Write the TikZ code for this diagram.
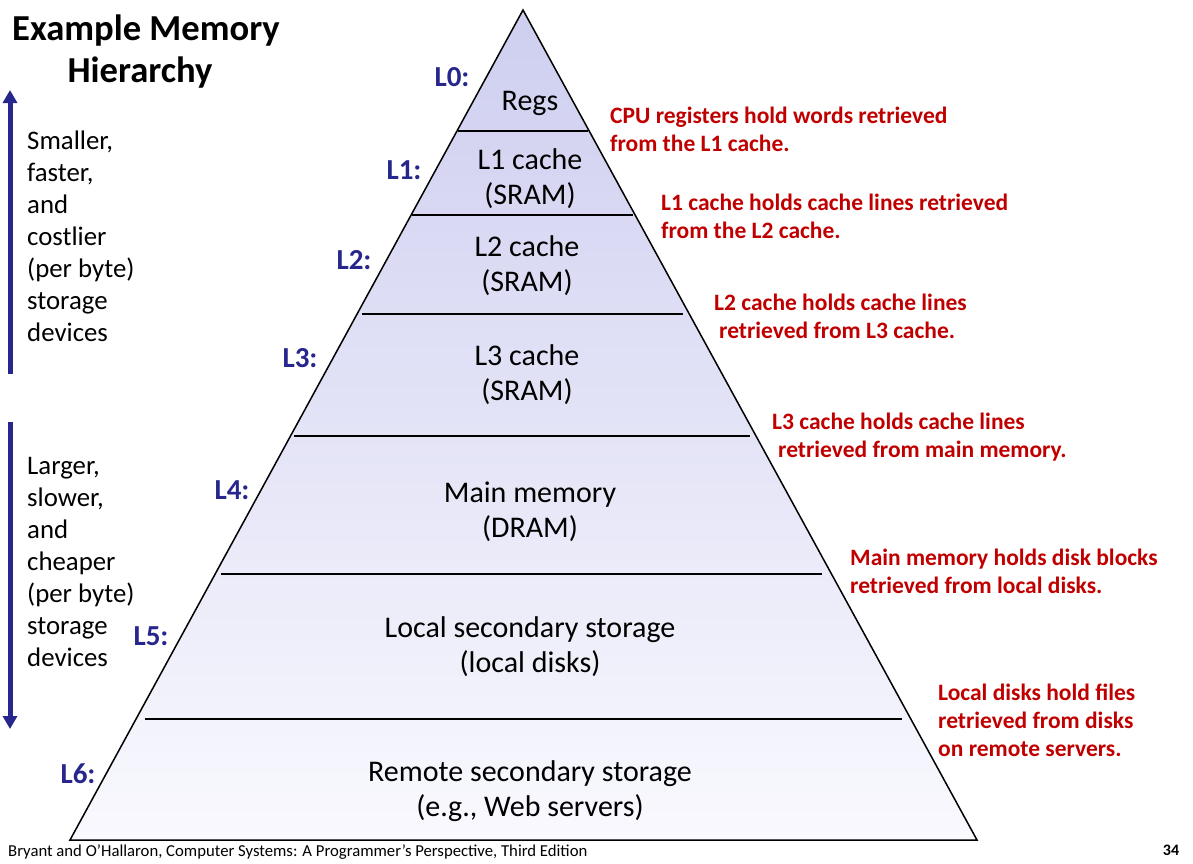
\documentclass[tikz,border=0pt]{standalone}
\usepackage{fontspec}
\setmainfont{Carlito}
\usetikzlibrary{arrows.meta}
\definecolor{navy}{RGB}{38,38,140}
\definecolor{darkred}{RGB}{192,0,0}
\definecolor{topfill}{RGB}{206,206,240}
\definecolor{botfill}{RGB}{249,249,254}
\tikzset{
  lvl/.style={font=\fontsize{29}{32}\selectfont\bfseries, text=navy, inner sep=0pt},
  tier/.style={font=\fontsize{30}{35}\selectfont, align=center, inner sep=0pt},
  note/.style={font=\fontsize{23.5}{27.7}\selectfont\bfseries, text=darkred, align=left, anchor=north west, inner sep=0pt},
  side/.style={font=\fontsize{26.8}{32}\selectfont, align=left, anchor=north west, inner sep=0pt},
  sep/.style={line width=1.3pt},
  bigarrow/.style={navy, line width=5pt, -{Triangle[width=14pt,length=13pt]}}
}
\begin{document}
\begin{tikzpicture}[x=1pt,y=-1pt]
\useasboundingbox (0,0) rectangle (1193,863);
% pyramid
\coordinate (apex) at (523,10);
\coordinate (bl) at (70,840);
\coordinate (br) at (977,840);
\shade[top color=topfill, bottom color=botfill] (apex) -- (br) -- (bl) -- cycle;
\draw[line width=1.5pt, line join=miter] (apex) -- (br) -- (bl) -- cycle;
% level separators
\draw[sep] (458,131) -- (588,131);
\draw[sep] (412,215) -- (633,215);
\draw[sep] (362,314) -- (683,314);
\draw[sep] (294,436) -- (750,436);
\draw[sep] (221,574) -- (822,574);
\draw[sep] (145,719) -- (902,719);
% tier texts
\node[tier] (regs) at (530,103) {Regs};
\node[tier] (t1) at (530,179) {L1 cache\\(SRAM)};
\node[tier] (t2) at (527,266) {L2 cache\\(SRAM)};
\node[tier] (t3) at (527,375) {L3 cache\\(SRAM)};
\node[tier] (t4) at (530,512) {Main memory\\(DRAM)};
\node[tier] (t5) at (530,647) {Local secondary storage\\(local disks)};
\node[tier] (t6) at (530,791) {Remote secondary storage\\(e.g., Web servers)};
% level labels
\node[lvl] (l0) at (452,77) {L0:};
\node[lvl] (l1) at (404,170) {L1:};
\node[lvl] (l2) at (354,260) {L2:};
\node[lvl] (l3) at (300,358) {L3:};
\node[lvl] (l4) at (232,490) {L4:};
\node[lvl] (l5) at (151,636) {L5:};
\node[lvl] (l6) at (78,774) {L6:};
% notes
\node[note] (n0) at (610,107) {CPU registers hold words retrieved\\from the L1 cache.};
\node[note] (n1) at (661,194) {L1 cache holds cache lines retrieved\\from the L2 cache.};
\node[note] (n2) at (714,294) {L2 cache holds cache lines\\\hspace*{5pt}retrieved from L3 cache.};
\node[note] (n3) at (772,413) {L3 cache holds cache lines\\\hspace*{6pt}retrieved from main memory.};
\node[note] (n4) at (850,549) {Main memory holds disk blocks\\retrieved from local disks.};
\node[note] (n5) at (938,684) {Local disks hold files\\retrieved from disks\\on remote servers.};
% title
\node[font=\fontsize{36.6}{42}\selectfont\bfseries, align=center, inner sep=0pt] (title) at (146,52) {Example Memory\\Hierarchy\hspace*{12pt}};
% side texts
\node[side] (s1) at (27,131) {Smaller,\\faster,\\and\\costlier\\(per byte)\\storage\\devices};
\node[side] (s2) at (27,457) {Larger,\\slower,\\and\\cheaper\\(per byte)\\storage\\devices};
% side arrows
\coordinate (ua1) at (10,374);
\coordinate (ua2) at (10,90);
\coordinate (da1) at (10,422);
\coordinate (da2) at (10,729);
\draw[bigarrow] (ua1) -- (ua2);
\draw[bigarrow] (da1) -- (da2);
% footer
\node[font=\fontsize{16.7}{19}\selectfont, anchor=west, inner sep=0pt] (foot) at (8,852) {Bryant and O’Hallaron, Computer Systems: A Programmer’s Perspective, Third Edition};
\node[font=\fontsize{16}{19}\selectfont\bfseries, inner sep=0pt] (page) at (1171,850) {34};
\end{tikzpicture}
\end{document}
